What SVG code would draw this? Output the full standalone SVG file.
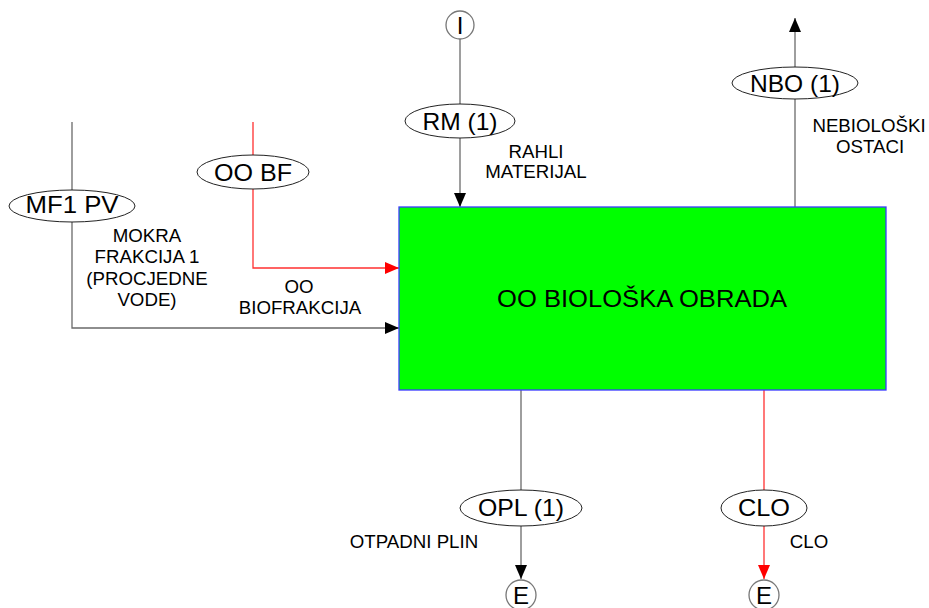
<svg xmlns="http://www.w3.org/2000/svg" width="929" height="608" viewBox="0 0 929 608">
<style>
.ln{fill:none;stroke:#6a6a6a;stroke-width:1.3}
.lr{fill:none;stroke:#ff3030;stroke-width:1.3}
.el{fill:#fff;stroke:#222;stroke-width:1}
.ci{fill:#fff;stroke:#777;stroke-width:1.3}
.lab{font-family:"Liberation Sans",Arial,sans-serif;font-size:24px;fill:#000;text-anchor:middle}
.sm{font-family:"Liberation Sans",Arial,sans-serif;font-size:18.7px;fill:#000;text-anchor:middle}
</style>
<defs>
<marker id="ab" markerUnits="userSpaceOnUse" markerWidth="14" markerHeight="12" viewBox="0 0 14 12" refX="14" refY="6" orient="auto"><path d="M0,0 L14,6 L0,12 Z" fill="#000"/></marker>
<marker id="ar" markerUnits="userSpaceOnUse" markerWidth="14" markerHeight="12" viewBox="0 0 14 12" refX="14" refY="6" orient="auto"><path d="M0,0 L14,6 L0,12 Z" fill="#ff0000"/></marker>
</defs>
<g id="connectors">
<path class="ln" d="M460,39 L460,207" marker-end="url(#ab)"/>
<path class="ln" d="M72,122 L72,328 L399,328" marker-end="url(#ab)"/>
<path class="lr" d="M253,122 L253,268 L399,268" marker-end="url(#ar)"/>
<path class="ln" d="M795,207 L795,18" marker-end="url(#ab)"/>
<path class="ln" d="M521,390 L521,579" marker-end="url(#ab)"/>
<path class="lr" d="M764,390 L764,579" marker-end="url(#ar)"/>
</g>
<g id="box">
<rect x="399" y="207" width="487" height="183" fill="#00ff00" stroke="#3a3aff" stroke-width="1.3"/>
<text class="lab" x="642" y="307" textLength="290" lengthAdjust="spacingAndGlyphs">OO BIOLOŠKA OBRADA</text>
</g>
<g id="in-I">
<circle class="ci" cx="460" cy="25" r="14"/>
<text class="lab" x="460" y="33.5">I</text>
</g>
<g id="rm1">
<ellipse class="el" cx="460" cy="121" rx="55" ry="17"/>
<text class="lab" x="460" y="129.5" textLength="75" lengthAdjust="spacingAndGlyphs">RM (1)</text>
<text class="sm" x="536" y="158">RAHLI</text>
<text class="sm" x="536" y="178">MATERIJAL</text>
</g>
<g id="mf1pv">
<ellipse class="el" cx="72" cy="206" rx="63" ry="16"/>
<text class="lab" x="72" y="213" textLength="93" lengthAdjust="spacingAndGlyphs">MF1 PV</text>
<text class="sm" x="147" y="242">MOKRA</text>
<text class="sm" x="147" y="263">FRAKCIJA 1</text>
<text class="sm" x="147" y="285">(PROCJEDNE</text>
<text class="sm" x="147" y="306">VODE)</text>
</g>
<g id="oobf">
<ellipse class="el" cx="253" cy="172" rx="56" ry="17"/>
<text class="lab" x="253" y="181" textLength="78" lengthAdjust="spacingAndGlyphs">OO BF</text>
<text class="sm" x="299" y="293">OO</text>
<text class="sm" x="300" y="314">BIOFRAKCIJA</text>
</g>
<g id="nbo1">
<ellipse class="el" cx="795" cy="83" rx="63" ry="16"/>
<text class="lab" x="795" y="92" textLength="90" lengthAdjust="spacingAndGlyphs">NBO (1)</text>
<text class="sm" x="869" y="132">NEBIOLOŠKI</text>
<text class="sm" x="870" y="153">OSTACI</text>
</g>
<g id="opl1">
<ellipse class="el" cx="521" cy="508" rx="61" ry="18"/>
<text class="lab" x="521" y="516" textLength="86" lengthAdjust="spacingAndGlyphs">OPL (1)</text>
<text class="sm" x="414" y="548">OTPADNI PLIN</text>
</g>
<g id="clo">
<ellipse class="el" cx="764" cy="508" rx="43" ry="18"/>
<text class="lab" x="764" y="516" textLength="52" lengthAdjust="spacingAndGlyphs">CLO</text>
<text class="sm" x="809" y="548">CLO</text>
</g>
<g id="out-E1">
<circle class="ci" cx="521" cy="595" r="15"/>
<text class="lab" x="521" y="604">E</text>
</g>
<g id="out-E2">
<circle class="ci" cx="764" cy="595" r="15"/>
<text class="lab" x="764" y="604">E</text>
</g>
</svg>
